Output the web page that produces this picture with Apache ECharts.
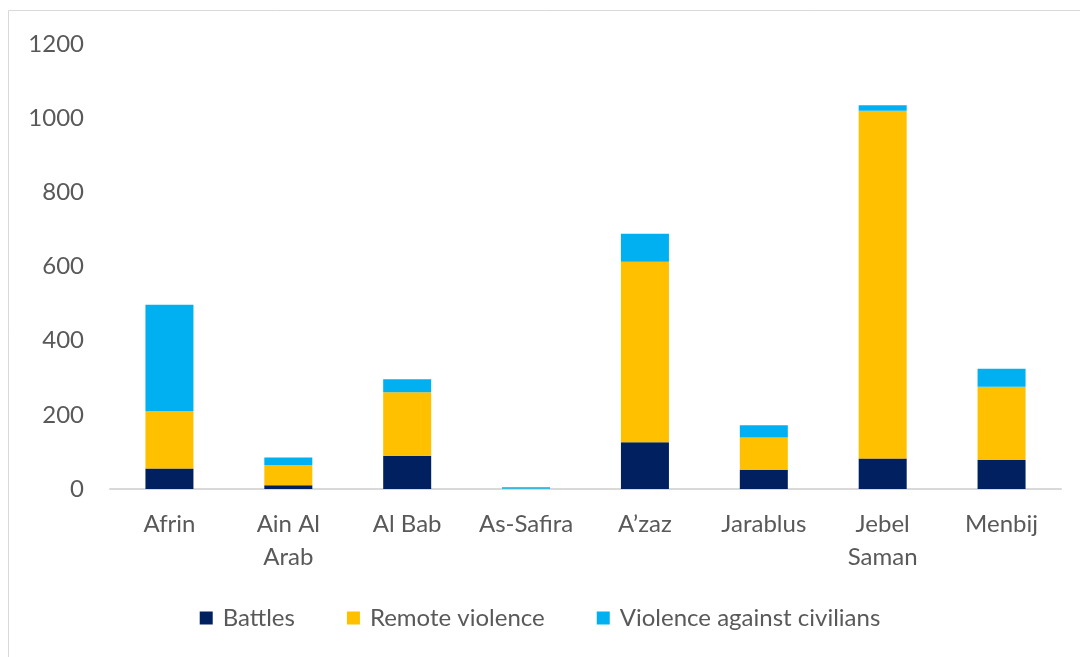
<!DOCTYPE html>
<html>
<head>
<meta charset="utf-8">
<script src="https://cdn.jsdelivr.net/npm/echarts@6/dist/echarts.min.js"></script>
<style>
  html, body { margin: 0; padding: 0; background: #ffffff; }
  #chart { width: 1080px; height: 657px; }
</style>
</head>
<body>
<div id="chart"></div>
<script>
// districts
var categories = ["Afrin", "Ain Al\nArab", "Al Bab", "As-Safira", "A\u2019zaz", "Jarablus", "Jebel\nSaman", "Menbij"];
var battles = [55, 10, 90, 0, 126, 51, 82, 78];
var remoteViolence = [155, 55, 171, 1, 487, 88, 938, 198];
var violenceCivilians = [287, 20, 35, 4, 75, 33, 15, 48];
var yTicks = [0, 200, 400, 600, 800, 1000, 1200];

var myChart = echarts.init(document.getElementById("chart"));
var textColor = "#595959";
var fontFam = "Lato, 'Open Sans', sans-serif";

myChart.setOption({
  animation: false,
  color: ["#002060", "#ffc000", "#00b0f0"],
  graphic: [
    {
      type: "rect",
      shape: { x: 8.5, y: 10.5, width: 1200, height: 800 },
      style: { fill: "none", stroke: "#d9d9d9", lineWidth: 1 }
    }
  ],
  grid: {
    left: 110,
    right: 19,
    top: 44,
    bottom: 168
  },
  legend: {
    bottom: 22,
    left: "center",
    itemWidth: 13,
    itemHeight: 13,
    itemGap: 52,
    icon: "rect",
    textStyle: { color: textColor, fontSize: 24, fontFamily: fontFam, padding: [0, 0, 0, 5] },
    data: ["Battles", "Remote violence", "Violence against civilians"]
  },
  xAxis: {
    type: "category",
    data: categories,
    axisLine: { lineStyle: { color: "#d9d9d9", width: 2 } },
    axisTick: { show: false },
    axisLabel: {
      interval: 0,
      color: textColor,
      fontSize: 24,
      fontFamily: fontFam,
      lineHeight: 33,
      margin: 19
    }
  },
  yAxis: {
    type: "value",
    min: yTicks[0],
    max: yTicks[yTicks.length - 1],
    interval: 200,
    splitLine: { show: false },
    axisLine: { show: false },
    axisTick: { show: false },
    axisLabel: {
      color: textColor,
      fontSize: 24,
      fontFamily: fontFam,
      margin: 26,
      formatter: function (v) { return String(v); }
    }
  },
  series: [
    {
      name: "Battles",
      type: "bar",
      stack: "total",
      barWidth: 48,
      data: battles
    },
    {
      name: "Remote violence",
      type: "bar",
      stack: "total",
      barWidth: 48,
      data: remoteViolence
    },
    {
      name: "Violence against civilians",
      type: "bar",
      stack: "total",
      barWidth: 48,
      data: violenceCivilians
    }
  ]
});
</script>
</body>
</html>
